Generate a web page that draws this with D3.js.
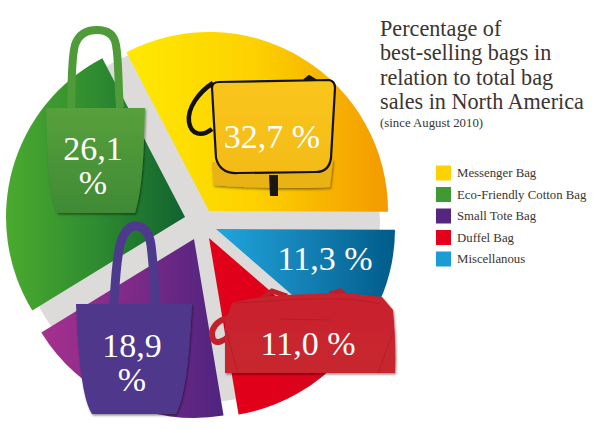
<!DOCTYPE html>
<html>
<head>
<script src="https://d3js.org/d3.v7.min.js"></script>
<style>
	body { margin: 0; background: #fff; }
	svg { display: block; }
	text { font-family: "Liberation Serif", serif; }
</style>
</head>
<body>
<svg id="chart" width="600" height="429"></svg>
<script>
var categories = ["Messenger Bag", "Eco-Friendly Cotton Bag", "Small Tote Bag", "Duffel Bag", "Miscellanous"];
var values = [32.7, 26.1, 18.9, 11.0, 11.3];
var valueLabels = ["32,7 %", "26,1 %", "18,9 %", "11,0 %", "11,3 %"];
var titleLines = ["Percentage of", "best-selling bags in", "relation to total bag", "sales in North America"];
var subtitle = "(since August 2010)";

// pie runs clockwise from the messenger slice
var pieOrder = [0, 4, 3, 2, 1];
var swatchColors = ["#fdd200", "#3f9a35", "#55267f", "#e2001a", "#1b9cd6"];
var gradients = [
	["#ffe900", "#fdd000", "#f39a00"],
	["#4aaa2e", "#2f8c30", "#11632f"],
	["#a6308f", "#7d2a87", "#4d247f"],
	["#e2001a", "#e0001a", "#cf0a20"],
	["#1fa6de", "#1480b4", "#005c8a"]
];
// how far each slice is pushed out of the grey disc
var offsets = [[10, -11], [-14, -5], [-5, 17], [10, 16], [17, 7]];

var svg = d3.select("#chart");
var defs = svg.append("defs");

gradients.forEach(function(stops, i) {
	var g = defs.append("linearGradient").attr("id", "grad" + i);
	stops.forEach(function(c, j) {
		g.append("stop").attr("offset", j / (stops.length - 1)).attr("stop-color", c);
	});
});
var shadow = defs.append("filter").attr("id", "shadow")
	.attr("x", "-10%").attr("y", "-10%").attr("width", "120%").attr("height", "125%");
shadow.append("feDropShadow").attr("dx", 1).attr("dy", 1.5).attr("stdDeviation", 1.2)
	.attr("flood-color", "#000").attr("flood-opacity", 0.45);

function bagGradient(id, top, bottom) {
	var g = defs.append("linearGradient").attr("id", id).attr("x2", 0).attr("y2", 1);
	g.append("stop").attr("offset", 0).attr("stop-color", top);
	g.append("stop").attr("offset", 1).attr("stop-color", bottom);
}
bagGradient("greenBag", "#58a03c", "#3f8a35");
bagGradient("yellowBag", "#f9c61c", "#f4bb17");
bagGradient("redBag", "#c9232d", "#c8262f");

///////////////////////////
// Pie
///////////////////////////
var cx = 199, cy = 222, radius = 179;
var startAngle = -27.5 * Math.PI / 180;

svg.append("circle").attr("cx", cx).attr("cy", cy).attr("r", 181).attr("fill", "#dddbd9");

var pie = d3.pie().sort(null).startAngle(startAngle).endAngle(startAngle + 2 * Math.PI);
var arc = d3.arc().innerRadius(0).outerRadius(radius);
var slices = pie(pieOrder.map(function(i) { return values[i]; }));

svg.append("g").selectAll("path").data(slices).enter().append("path")
	.attr("d", arc)
	.attr("fill", function(d, k) { return "url(#grad" + pieOrder[k] + ")"; })
	.attr("transform", function(d, k) {
		var o = offsets[pieOrder[k]];
		return "translate(" + (cx + o[0]) + "," + (cy + o[1]) + ")";
	});

///////////////////////////
// Bags
///////////////////////////
var bags = svg.append("g");

// Eco-friendly cotton bag
var green = bags.append("g");
green.append("path")
	.attr("d", "M71,108 C72,85 71,60 75,45 C79,33 88,30 97,30 C106,30 114,33 116,45 C119,62 118,85 120,108")
	.attr("fill", "none").attr("stroke", "#4f9b3a").attr("stroke-width", 8);
green.append("path")
	.attr("d", "M46,108 L145,108 C144,135 144,185 135,213 L57,213 C47,190 47,135 46,108 Z")
	.attr("fill", "url(#greenBag)").attr("filter", "url(#shadow)");

// Small tote bag
var tote = bags.append("g");
tote.append("path")
	.attr("d", "M114,304 C115,285 116,262 120,245 C124,231 130,226 135,226 C143,226 149,231 151,245 C153,262 155,285 155,304")
	.attr("fill", "none").attr("stroke", "#4d3a8c").attr("stroke-width", 9);
tote.append("path")
	.attr("d", "M76,304 L192,304 C190,340 187,395 176,414 L92,414 C80,395 78,340 76,304 Z")
	.attr("fill", "#4f378c").attr("filter", "url(#shadow)");

// Duffel bag
var duffel = bags.append("g");
duffel.append("path")
	.attr("d", "M228,318 C217,320 209,330 213,339 C216,345 224,341 229,336")
	.attr("fill", "none").attr("stroke", "#c2202b").attr("stroke-width", 6);
duffel.append("path")
	.attr("d", "M262,298 L272,291 L287,296 M330,294 L340,291 L346,296")
	.attr("fill", "none").attr("stroke", "#bd1e28").attr("stroke-width", 5);
duffel.append("path")
	.attr("d", "M225,373 L225,323 L232,303 C250,298 270,296 285,295 L345,293 L382,297 L393,310 C395,330 396,355 395,373 Z")
	.attr("fill", "url(#redBag)").attr("filter", "url(#shadow)");
duffel.append("path")
	.attr("d", "M236,303 C280,301 340,294 380,304 M280,319 L330,320 M226,330 L238,373 M394,330 L378,373")
	.attr("fill", "none").attr("stroke", "#ad1a25").attr("stroke-width", 1).attr("opacity", 0.7);

// Messenger bag
var messenger = bags.append("g");
messenger.append("path")
	.attr("d", "M213,83 C199,92 187,108 189,122 C191,135 202,137 212,129")
	.attr("fill", "none").attr("stroke", "#111").attr("stroke-width", 4.5);
messenger.append("path")
	.attr("d", "M212,162 L213,185 C240,188 310,189 330,187 L333,160 Z")
	.attr("fill", "#e9b316").attr("filter", "url(#shadow)");
messenger.append("path")
	.attr("d", "M212,88 Q212,82 219,82 L329,80 Q335,81 335,88 L331,158 Q329,172 316,172 L238,173 Q220,174 216,158 Z")
	.attr("fill", "url(#yellowBag)").attr("stroke", "#14110c").attr("stroke-width", 2.2);
messenger.append("path")
	.attr("d", "M269,175 L278,175 L278,196 L270,196 Z")
	.attr("fill", "#1a1712");
messenger.append("path")
	.attr("d", "M304,80 L309,76 L316,80")
	.attr("fill", "#1a1712").attr("stroke", "#1a1712").attr("stroke-width", 2);

///////////////////////////
// Value labels
///////////////////////////
// [x, first baseline] per category; narrow bags wrap the percent sign
var labelPos = [[272, 148], [93, 160], [132, 357], [308, 355], [325, 270]];
var wrapped = [false, true, true, false, false];

var labels = svg.append("g").attr("fill", "#fff").attr("font-size", 34).attr("text-anchor", "middle");
valueLabels.forEach(function(t, i) {
	var p = labelPos[i];
	if (wrapped[i]) {
		var parts = t.split(" ");
		labels.append("text").attr("x", p[0]).attr("y", p[1]).text(parts[0]);
		labels.append("text").attr("x", p[0]).attr("y", p[1] + 34).text(parts[1]);
	} else {
		labels.append("text").attr("x", p[0]).attr("y", p[1]).text(t);
	}
});

///////////////////////////
// Title and legend
///////////////////////////
var titleY = d3.scaleLinear().domain([0, 3]).range([36, 109]);
svg.append("g").selectAll("text").data(titleLines).enter().append("text")
	.attr("x", 380)
	.attr("y", function(d, i) { return titleY(i); })
	.attr("font-size", 22.2).attr("fill", "#3b3431")
	.text(function(d) { return d; });
svg.append("text").attr("x", 380).attr("y", 127)
	.attr("font-size", 12.8).attr("fill", "#3b3431").text(subtitle);

var legendY = d3.scalePoint().domain(categories).range([173, 259]);
var legend = svg.append("g").selectAll("g").data(categories).enter().append("g")
	.attr("transform", function(d) { return "translate(436," + legendY(d) + ")"; });
legend.append("rect").attr("y", -7.5).attr("width", 15).attr("height", 15)
	.attr("fill", function(d, i) { return swatchColors[i]; });
legend.append("text").attr("x", 21).attr("y", 4)
	.attr("font-size", 12.8).attr("fill", "#3b3431")
	.text(function(d) { return d; });
</script>
</body>
</html>
